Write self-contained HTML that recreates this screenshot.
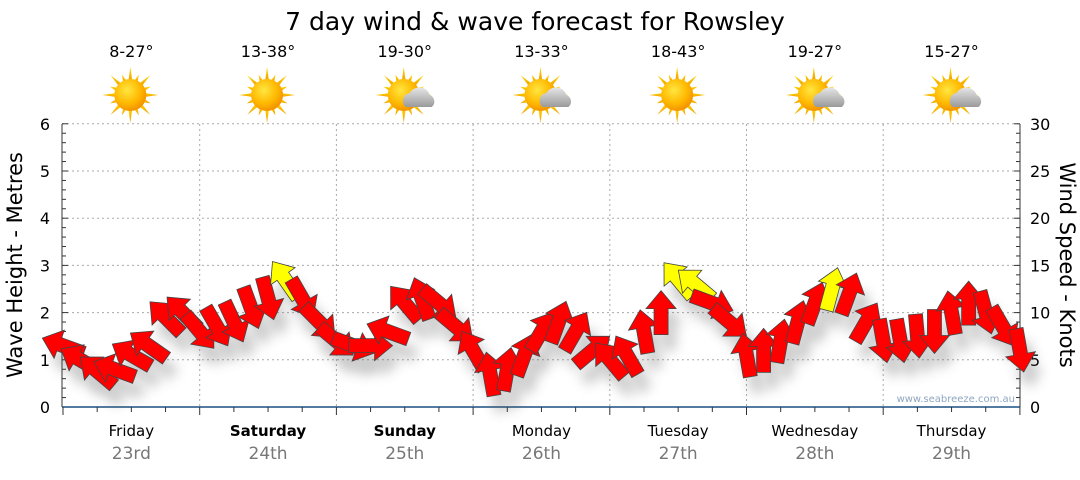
<!DOCTYPE html>
<html><head><meta charset="utf-8">
<style>
body{margin:0;background:#fff;font-family:"Liberation Sans","DejaVu Sans",sans-serif;}
svg text{font-family:"DejaVu Sans","Liberation Sans",sans-serif;}
</style></head>
<body>
<svg id="chart" width="1080" height="475" viewBox="0 0 1080 475" xmlns="http://www.w3.org/2000/svg">
<defs>
<radialGradient id="sunG" cx="0.4" cy="0.35" r="0.7"><stop offset="0" stop-color="#ffe640"/><stop offset="0.6" stop-color="#ffb800"/><stop offset="1" stop-color="#f08c00"/></radialGradient>
<linearGradient id="rayG" x1="0" y1="0" x2="0" y2="1"><stop offset="0" stop-color="#ffd400"/><stop offset="1" stop-color="#f0a000"/></linearGradient>
<linearGradient id="cloudG" x1="0" y1="0" x2="0" y2="1"><stop offset="0" stop-color="#e6e6e6"/><stop offset="1" stop-color="#9a9a9a"/></linearGradient>
<filter id="shadow" x="-50%" y="-50%" width="200%" height="200%"><feGaussianBlur stdDeviation="6"/></filter>
</defs>
<text x="535" y="30" font-size="25" text-anchor="middle" fill="#000">7 day wind &amp; wave forecast for Rowsley</text>
<g id="header"></g>
<g id="grid"></g>
<g id="axes"></g>
<g id="shadows" opacity="0.3"></g>
<g id="arrows"></g>
<text x="1015" y="402" font-size="10" text-anchor="end" fill="#8fa6c0">www.seabreeze.com.au</text>
<text transform="translate(22,265) rotate(-90)" font-size="21" text-anchor="middle" fill="#000">Wave Height - Metres</text>
<text transform="translate(1060,265) rotate(90)" font-size="21" text-anchor="middle" fill="#000">Wind Speed - Knots</text>
</svg>
<script>
const days=["Friday","Saturday","Sunday","Monday","Tuesday","Wednesday","Thursday"];
const dates=["23rd","24th","25th","26th","27th","28th","29th"];
const boldDays=[false,true,true,false,false,false,false];
const temps=["8-27°","13-38°","19-30°","13-33°","18-43°","19-27°","15-27°"];
const cloudy=[false,false,true,true,false,true,true];
const leftTicks=[0,1,2,3,4,5,6];
const rightTicks=[0,5,10,15,20,25,30];
// wind speed in knots, 3-hourly from Friday 00:00
const windKnots=[6.5,5,3.8,4,5.5,6.5,9.5,10,
 8,8.5,9,10.5,11.5,13.5,11.5,9,
 7,6.5,6.5,8,11,11.5,11,8.5,
 6,3.5,4,5.5,8,9,8,6,
 5,5.5,8,10,13.5,13,11,9,
 5.5,6,7,9,11,12.5,12,9,
 7,7,7.5,8,10,11,10,8.5,6];
// arrow pointing direction in degrees (0 = right, clockwise)
const windDir=[200,210,220,200,210,215,225,225,
 50,60,65,70,75,235,60,45,
 40,20,0,200,230,250,40,40,
 240,260,280,290,300,290,300,320,
 230,240,260,270,230,220,20,40,
 260,270,280,285,290,285,290,300,
 80,80,85,90,260,270,75,60,80];
const X0=63,DAYW=136.7,Y0=407,PXM=47.2,YELLOW=12.5;
const xT=i=>X0+i*DAYW/8;
const yK=k=>Y0-k/5*PXM;
const ns="http://www.w3.org/2000/svg";
function mk(t,a,p){const e=document.createElementNS(ns,t);for(const k in a)e.setAttribute(k,a[k]);p.appendChild(e);return e;}
const grid=document.getElementById('grid'),axes=document.getElementById('axes'),hdr=document.getElementById('header');
leftTicks.forEach(v=>{const y=Y0-v*PXM;
 if(v>0){const g=mk('line',{x1:62,x2:1020,y1:y,y2:y,stroke:'#aaa','stroke-dasharray':'2,3'},grid);}
 const t=mk('text',{x:50,y:y+6,'font-size':16,'text-anchor':'end',fill:'#000'},axes);t.textContent=v;
 
});
rightTicks.forEach(v=>{const y=Y0-v/5*PXM;
 const t=mk('text',{x:1030,y:y+6,'font-size':16,'text-anchor':'start',fill:'#000'},axes);t.textContent=v;
 
});
for(let i=0;i<=30;i++){const y=Y0-i*PXM/5;const l=i%5==0?6:4;
 mk('line',{x1:62,x2:62+l,y1:y,y2:y,stroke:'#333'},axes);
 mk('line',{x1:1020,x2:1020-l,y1:y,y2:y,stroke:'#333'},axes);}
mk('line',{x1:62,x2:62,y1:124,y2:Y0,stroke:'#333'},axes);
mk('line',{x1:1020,x2:1020,y1:124,y2:Y0,stroke:'#333'},axes);
mk('line',{x1:62,x2:1020,y1:Y0,y2:Y0,stroke:'#1a4f80','stroke-width':1.5},axes);
for(let i=0;i<=28;i++){const x=X0+i*DAYW/4;mk('line',{x1:x,x2:x,y1:Y0,y2:Y0+(i%4==0?8:5),stroke:'#333'},axes);}
days.forEach((d,i)=>{const xc=X0+(i+0.5)*DAYW;
 if(i>0){const g=mk('line',{x1:X0+i*DAYW,x2:X0+i*DAYW,y1:124,y2:Y0,stroke:'#aaa','stroke-dasharray':'2,3'},grid);}
 const t=mk('text',{x:xc,y:436,'font-size':15,'text-anchor':'middle',fill:'#000','font-weight':boldDays[i]?'bold':'normal'},axes);t.textContent=d;
 
 const t2=mk('text',{x:xc,y:459,'font-size':17,'text-anchor':'middle',fill:'#777'},axes);t2.textContent=dates[i];
 
 const t3=mk('text',{x:xc,y:57,'font-size':16,'text-anchor':'middle',fill:'#000'},hdr);t3.textContent=temps[i];
 
 const g=mk('g',{transform:`translate(${xc-1},95)`},hdr);
 
 
 for(let r=0;r<16;r++){const a=r*Math.PI/8,L=r%2?22:28;
  const p=[[Math.cos(a)*L,Math.sin(a)*L],[Math.cos(a+0.14)*14,Math.sin(a+0.14)*14],[Math.cos(a-0.14)*14,Math.sin(a-0.14)*14]];
  mk('polygon',{points:p.map(q=>q.join(',')).join(' '),fill:'url(#rayG)'},g);}
 mk('circle',{cx:0,cy:0,r:16,fill:'url(#sunG)'},g);
 if(cloudy[i]){mk('path',{d:'M2,12 a8,8 0 0 1 4,-14 a11,11 0 0 1 20,2 a7,7 0 0 1 2,12 z',fill:'url(#cloudG)'},g);}
});
const sh=document.getElementById('shadows'),ar=document.getElementById('arrows');
const path='M-22,-7 L4,-7 L4,-15 L22,0 L4,15 L4,7 L-22,7 Z';
windKnots.forEach((k,i)=>{const x=xT(i),y=yK(k),a=windDir[i];
 mk('path',{d:path,transform:`translate(${x+8},${y+16}) rotate(${a})`,fill:'#555',filter:'url(#shadow)'},sh);
});
windKnots.forEach((k,i)=>{const x=xT(i),y=yK(k),a=windDir[i];
 const p=mk('path',{d:path,transform:`translate(${x},${y}) rotate(${a})`,fill:k>=YELLOW?'#ffff00':'#ff0000',stroke:'#444','stroke-width':0.8},ar);
 
 
});
</script>
</body></html>
